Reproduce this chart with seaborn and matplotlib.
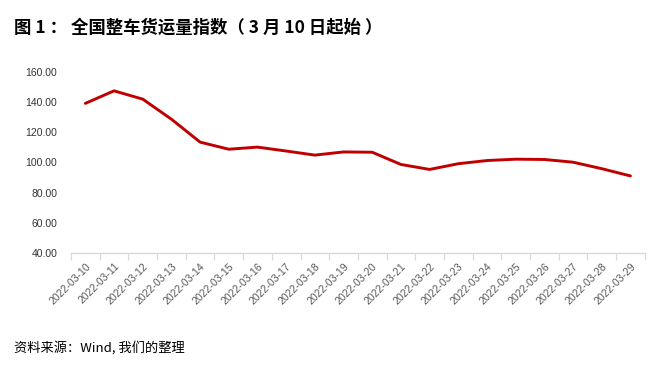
import numpy as np
import pandas as pd
import matplotlib.pyplot as plt
import seaborn as sns
from matplotlib.ticker import FixedLocator, NullFormatter

# data
dates = ['2022-03-10', '2022-03-11', '2022-03-12', '2022-03-13', '2022-03-14',
         '2022-03-15', '2022-03-16', '2022-03-17', '2022-03-18', '2022-03-19',
         '2022-03-20', '2022-03-21', '2022-03-22', '2022-03-23', '2022-03-24',
         '2022-03-25', '2022-03-26', '2022-03-27', '2022-03-28', '2022-03-29']
index_values = [139.2, 147.5, 142.0, 128.7, 113.5, 108.8, 110.2, 107.6, 104.9, 107.0,
                106.8, 98.7, 95.4, 99.2, 101.3, 102.2, 102.0, 100.2, 95.9, 91.1]
y_ticks = [40, 60, 80, 100, 120, 140, 160]

df = pd.DataFrame({'date': dates, 'value': index_values})

sns.set_theme(style='white')
plt.rcParams['font.family'] = ['Noto Sans CJK SC', 'DejaVu Sans']

fig = plt.figure(figsize=(6.48, 3.73), dpi=100)
ax = fig.add_axes([0.1096, 0.3217, 0.8854, 0.4853])

sns.lineplot(data=df, x='date', y='value', ax=ax, color='#C00000', linewidth=2.1, sort=False)

ax.set_xlim(-0.5, len(dates) - 0.5)
ax.set_ylim(40, 160)
ax.set_yticks(y_ticks)
ax.set_yticklabels([f'{v:.2f}' for v in y_ticks], fontsize=7.5, color='#333333',
                   family=['Liberation Sans', 'DejaVu Sans'])
ax.set_xticks(range(len(dates)))
ax.set_xticklabels(dates, rotation=45, ha='right', rotation_mode='anchor', fontsize=7.6,
                   color='#595959', family=['Liberation Sans', 'DejaVu Sans'])
ax.tick_params(axis='x', which='major', length=0, pad=6)
ax.tick_params(axis='y', length=0, pad=10)
# Excel style tick marks between categories
ax.xaxis.set_minor_locator(FixedLocator(np.arange(-0.5, len(dates), 1.0)))
ax.xaxis.set_minor_formatter(NullFormatter())
ax.tick_params(axis='x', which='minor', bottom=True, length=5, width=0.8, color='#d9d9d9')

for side in ['top', 'right', 'left']:
    ax.spines[side].set_visible(False)
ax.spines['bottom'].set_color('#d9d9d9')
ax.spines['bottom'].set_linewidth(1.0)
ax.set_xlabel('')
ax.set_ylabel('')

fig.text(0.022, 0.925, '图 1 ： 全国整车货运量指数（ 3 月 10 日起始 ）', fontsize=12.5,
         fontweight='bold', color='black', va='center')
fig.text(0.022, 0.067, '资料来源：Wind, 我们的整理', fontsize=9.5, color='black', va='center')

fig.savefig('out.png', dpi=100)
